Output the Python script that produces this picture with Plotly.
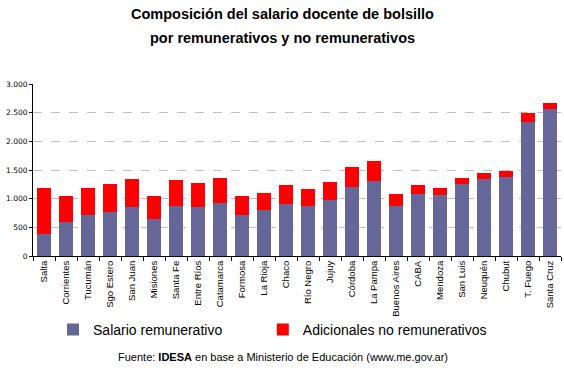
import plotly.graph_objects as go

provincias = ["Salta", "Corrientes", "Tucumán", "Sgo Estero", "San Juan", "Misiones",
              "Santa Fe", "Entre Ríos", "Catamarca", "Formosa", "La Rioja", "Chaco",
              "Río Negro", "Jujuy", "Córdoba", "La Pampa", "Buenos Aires", "CABA",
              "Mendoza", "San Luis", "Neuquén", "Chubut", "T. Fuego", "Santa Cruz"]
salario_remunerativo = [390, 600, 720, 760, 850, 650, 880, 860, 930, 720, 810, 910,
                        880, 980, 1210, 1300, 880, 1080, 1060, 1260, 1340, 1380, 2340, 2560]
total_bolsillo = [1180, 1040, 1180, 1250, 1350, 1040, 1320, 1265, 1360, 1040, 1100, 1230,
                  1170, 1295, 1560, 1660, 1090, 1230, 1190, 1360, 1450, 1490, 2500, 2670]
adicionales_no_remunerativos = [t - s for t, s in zip(total_bolsillo, salario_remunerativo)]
y_ticks = [0, 500, 1000, 1500, 2000, 2500, 3000]

fig = go.Figure()
fig.add_trace(go.Bar(x=provincias, y=salario_remunerativo, name="Salario remunerativo",
                     marker=dict(color="#666699", line=dict(width=0)), legend="legend"))
fig.add_trace(go.Bar(x=provincias, y=adicionales_no_remunerativos, name="Adicionales no remunerativos",
                     marker=dict(color="#FF0000", line=dict(width=0)), legend="legend2"))

title_font = dict(size=14.5, family="Arial, Liberation Sans, sans-serif", color="black")
legend_common = dict(orientation="h", xref="container", yref="container", y=0.147,
                     xanchor="left", yanchor="top",
                     font=dict(size=14, family="Arial, Liberation Sans, sans-serif"),
                     itemwidth=30, bgcolor="rgba(0,0,0,0)")

fig.update_layout(
    barmode="stack", bargap=0.32,
    width=564, height=368,
    margin=dict(l=33, r=3, t=84, b=112, autoexpand=False),
    paper_bgcolor="white", plot_bgcolor="white",
    separators=",.",
    font=dict(family="Arial, Liberation Sans, sans-serif", color="black"),
    showlegend=True,
    legend=dict(x=0.094, **legend_common),
    legend2=dict(x=0.466, **legend_common),
    xaxis=dict(type="category", tickangle=-90,
               tickfont=dict(size=9.5, family="Liberation Sans Narrow, Arial Narrow, Arial, sans-serif"),
               showline=True, linecolor="black", linewidth=1, automargin=False,
               ticks="outside", ticklen=4, tickcolor="black", tickson="boundaries",
               showgrid=False),
    yaxis=dict(range=[0, 3000], tickvals=y_ticks, tickformat=",d", automargin=False,
               tickfont=dict(size=7.5, family="DejaVu Sans, Verdana, sans-serif"),
               showline=True, linecolor="black", linewidth=1,
               ticks="outside", ticklen=3, tickcolor="black",
               showgrid=True, gridcolor="#C0C0C0", griddash="dash", gridwidth=1,
               zeroline=False),
    annotations=[
        dict(text="<b>Composición del salario docente de bolsillo</b>",
             xref="paper", yref="paper", x=0.473, y=1.407, xanchor="center", yanchor="middle",
             showarrow=False, font=title_font),
        dict(text="<b>por remunerativos y no remunerativos</b>",
             xref="paper", yref="paper", x=0.473, y=1.267, xanchor="center", yanchor="middle",
             showarrow=False, font=title_font),
        dict(text="Fuente: <b>IDESA</b> en base a Ministerio de Educación (www.me.gov.ar)",
             xref="paper", yref="paper", x=0.473, y=-0.587,
             xanchor="center", yanchor="middle", showarrow=False,
             font=dict(size=11, family="Arial, Liberation Sans, sans-serif")),
    ],
)

fig.write_html("out.html", config={"displayModeBar": False},
               post_script="document.body.style.margin='0';")
